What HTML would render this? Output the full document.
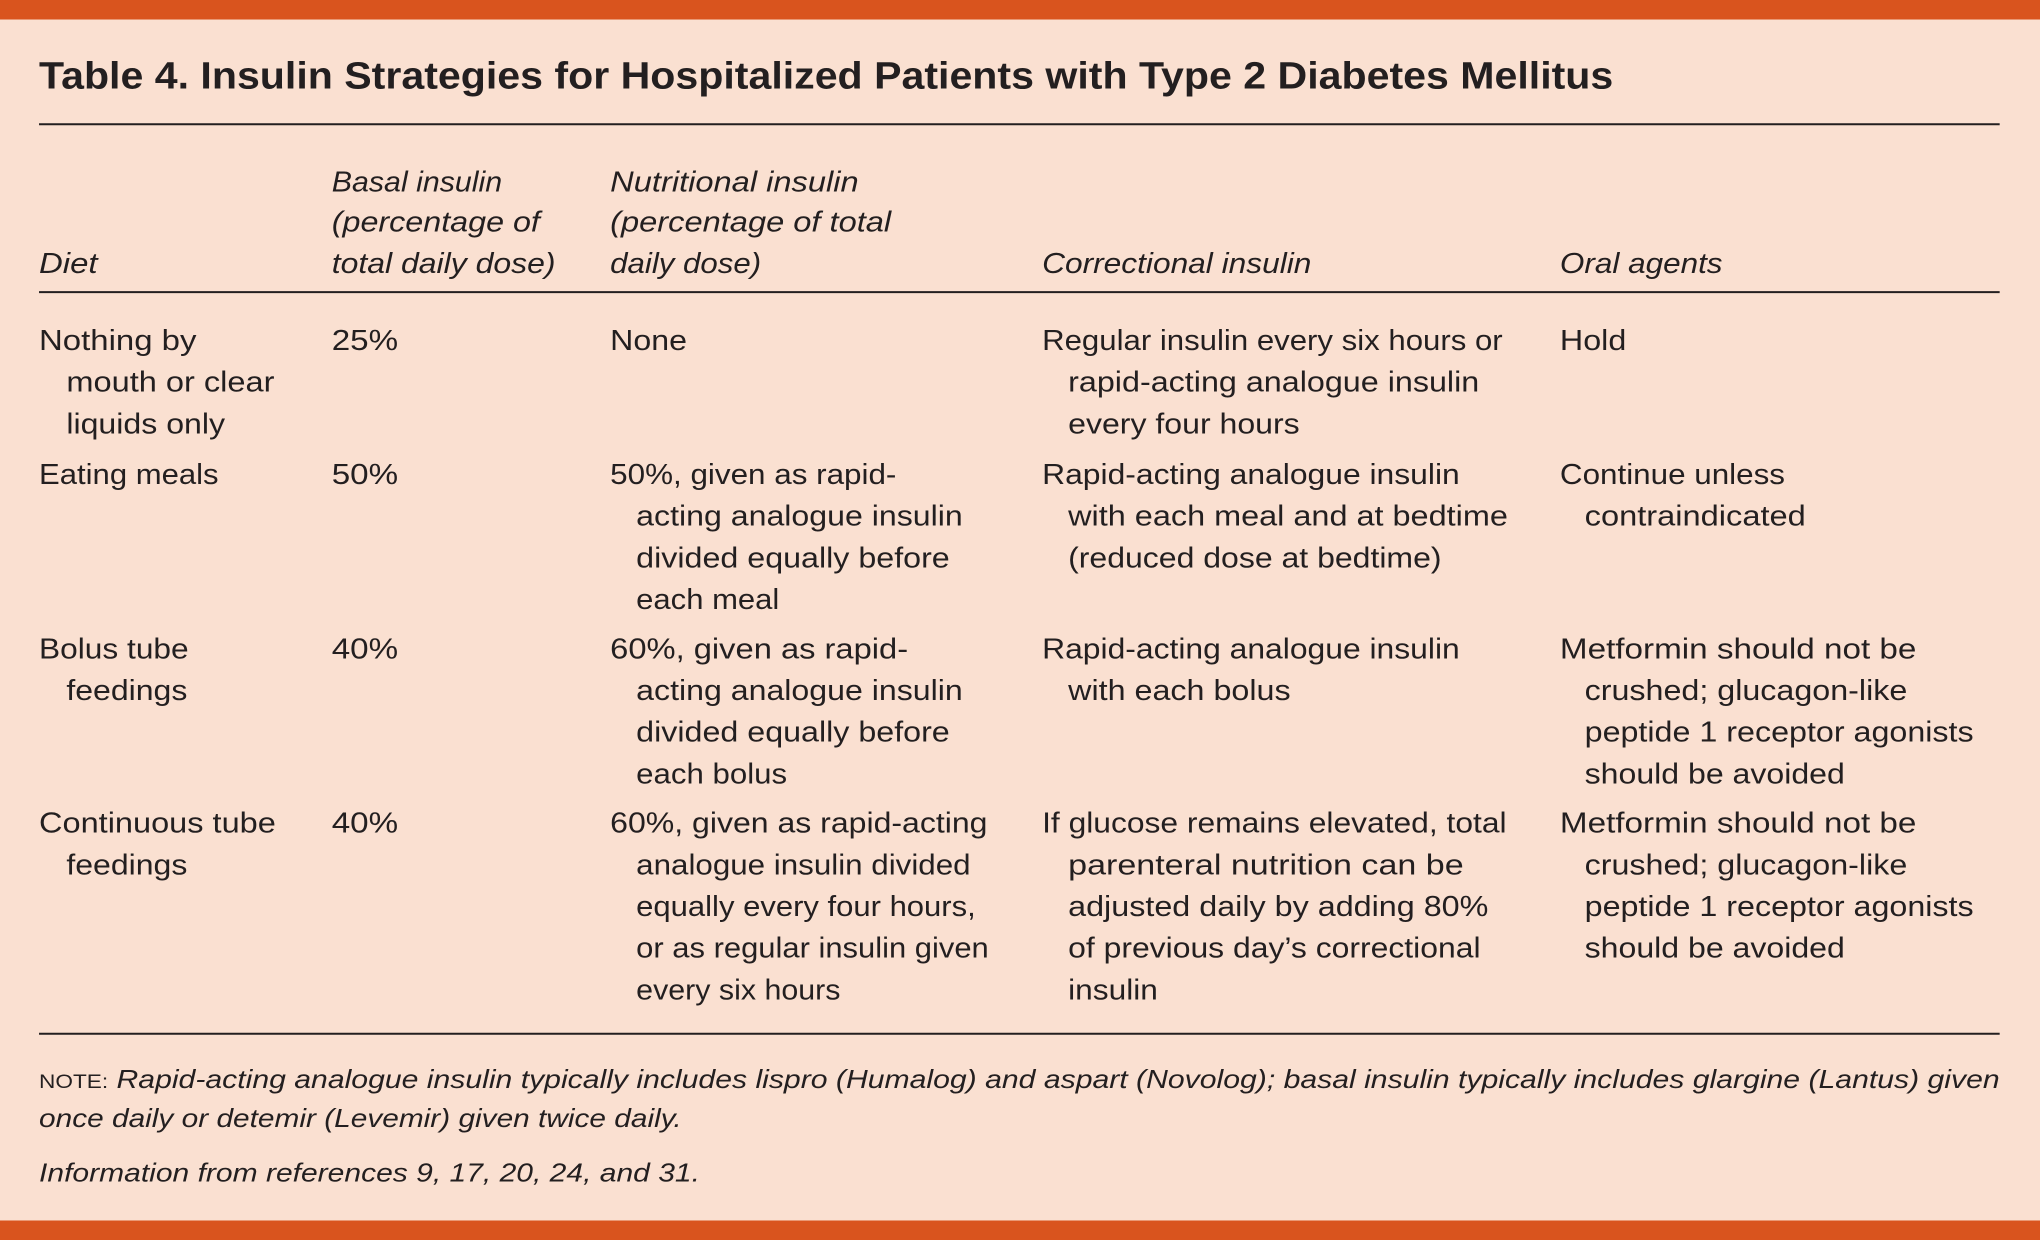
<!DOCTYPE html>
<html><head><meta charset="utf-8"><style>
html,body{margin:0;padding:0;background:#fae0d1;}
svg{display:block}
text{font-family:"Liberation Sans",sans-serif;fill:#231f20;font-size:22px}
.i{font-style:italic}
.b{font-weight:bold;font-size:29px}
.n{font-size:20px}
</style></head><body>
<svg width="2040" height="1240" viewBox="0 0 1568 953" preserveAspectRatio="none" xmlns="http://www.w3.org/2000/svg">
<rect x="0" y="0" width="1568" height="953" fill="#fae0d1"/>
<rect x="0" y="0" width="1568" height="15" fill="#d9541e"/>
<rect x="0" y="938" width="1568" height="15" fill="#d9541e"/>
<text class="b" x="30" y="68" textLength="1210" lengthAdjust="spacingAndGlyphs">Table 4. Insulin Strategies for Hospitalized Patients with Type 2 Diabetes Mellitus</text>
<line x1="30" y1="95.5" x2="1537" y2="95.5" stroke="#231f20" stroke-width="1.6"/>
<line x1="30" y1="224.5" x2="1537" y2="224.5" stroke="#231f20" stroke-width="1.6"/>
<line x1="30" y1="794.5" x2="1537" y2="794.5" stroke="#231f20" stroke-width="1.6"/>
<g class="i">
<text class="i" x="255" y="147" textLength="131" lengthAdjust="spacingAndGlyphs">Basal insulin</text>
<text class="i" x="255" y="178" textLength="160" lengthAdjust="spacingAndGlyphs">(percentage of</text>
<text class="i" x="255" y="210" textLength="172" lengthAdjust="spacingAndGlyphs">total daily dose)</text>
<text class="i" x="469" y="147" textLength="191" lengthAdjust="spacingAndGlyphs">Nutritional insulin</text>
<text class="i" x="469" y="178" textLength="216" lengthAdjust="spacingAndGlyphs">(percentage of total</text>
<text class="i" x="469" y="210" textLength="116" lengthAdjust="spacingAndGlyphs">daily dose)</text>
<text class="i" x="30" y="210" textLength="45" lengthAdjust="spacingAndGlyphs">Diet</text>
<text class="i" x="801" y="210" textLength="207" lengthAdjust="spacingAndGlyphs">Correctional insulin</text>
<text class="i" x="1199" y="210" textLength="125" lengthAdjust="spacingAndGlyphs">Oral agents</text>
</g>
<!-- row1 -->
<text x="30" y="269" textLength="121" lengthAdjust="spacingAndGlyphs">Nothing by</text>
<text x="51" y="301" textLength="160" lengthAdjust="spacingAndGlyphs">mouth or clear</text>
<text x="51" y="333" textLength="122" lengthAdjust="spacingAndGlyphs">liquids only</text>
<text x="255" y="269" textLength="51" lengthAdjust="spacingAndGlyphs">25%</text>
<text x="469" y="269" textLength="59" lengthAdjust="spacingAndGlyphs">None</text>
<text x="801" y="269" textLength="354" lengthAdjust="spacingAndGlyphs">Regular insulin every six hours or</text>
<text x="821" y="301" textLength="316" lengthAdjust="spacingAndGlyphs">rapid-acting analogue insulin</text>
<text x="821" y="333" textLength="178" lengthAdjust="spacingAndGlyphs">every four hours</text>
<text x="1199" y="269" textLength="51" lengthAdjust="spacingAndGlyphs">Hold</text>
<!-- row2 -->
<text x="30" y="372" textLength="138" lengthAdjust="spacingAndGlyphs">Eating meals</text>
<text x="255" y="372" textLength="51" lengthAdjust="spacingAndGlyphs">50%</text>
<text x="469" y="372" textLength="220" lengthAdjust="spacingAndGlyphs">50%, given as rapid-</text>
<text x="489" y="404" textLength="251" lengthAdjust="spacingAndGlyphs">acting analogue insulin</text>
<text x="489" y="436" textLength="241" lengthAdjust="spacingAndGlyphs">divided equally before</text>
<text x="489" y="468" textLength="110" lengthAdjust="spacingAndGlyphs">each meal</text>
<text x="801" y="372" textLength="321" lengthAdjust="spacingAndGlyphs">Rapid-acting analogue insulin</text>
<text x="821" y="404" textLength="338" lengthAdjust="spacingAndGlyphs">with each meal and at bedtime</text>
<text x="821" y="436" textLength="287" lengthAdjust="spacingAndGlyphs">(reduced dose at bedtime)</text>
<text x="1199" y="372" textLength="173" lengthAdjust="spacingAndGlyphs">Continue unless</text>
<text x="1218" y="404" textLength="170" lengthAdjust="spacingAndGlyphs">contraindicated</text>
<!-- row3 -->
<text x="30" y="506" textLength="115" lengthAdjust="spacingAndGlyphs">Bolus tube</text>
<text x="51" y="538" textLength="93" lengthAdjust="spacingAndGlyphs">feedings</text>
<text x="255" y="506" textLength="51" lengthAdjust="spacingAndGlyphs">40%</text>
<text x="469" y="506" textLength="229" lengthAdjust="spacingAndGlyphs">60%, given as rapid-</text>
<text x="489" y="538" textLength="251" lengthAdjust="spacingAndGlyphs">acting analogue insulin</text>
<text x="489" y="570" textLength="241" lengthAdjust="spacingAndGlyphs">divided equally before</text>
<text x="489" y="602" textLength="116" lengthAdjust="spacingAndGlyphs">each bolus</text>
<text x="801" y="506" textLength="321" lengthAdjust="spacingAndGlyphs">Rapid-acting analogue insulin</text>
<text x="821" y="538" textLength="171" lengthAdjust="spacingAndGlyphs">with each bolus</text>
<text x="1199" y="506" textLength="274" lengthAdjust="spacingAndGlyphs">Metformin should not be</text>
<text x="1218" y="538" textLength="248" lengthAdjust="spacingAndGlyphs">crushed; glucagon-like</text>
<text x="1218" y="570" textLength="299" lengthAdjust="spacingAndGlyphs">peptide 1 receptor agonists</text>
<text x="1218" y="602" textLength="200" lengthAdjust="spacingAndGlyphs">should be avoided</text>
<!-- row4 -->
<text x="30" y="640" textLength="182" lengthAdjust="spacingAndGlyphs">Continuous tube</text>
<text x="51" y="672" textLength="93" lengthAdjust="spacingAndGlyphs">feedings</text>
<text x="255" y="640" textLength="51" lengthAdjust="spacingAndGlyphs">40%</text>
<text x="469" y="640" textLength="290" lengthAdjust="spacingAndGlyphs">60%, given as rapid-acting</text>
<text x="489" y="672" textLength="257" lengthAdjust="spacingAndGlyphs">analogue insulin divided</text>
<text x="489" y="704" textLength="261" lengthAdjust="spacingAndGlyphs">equally every four hours,</text>
<text x="489" y="736" textLength="271" lengthAdjust="spacingAndGlyphs">or as regular insulin given</text>
<text x="489" y="768" textLength="157" lengthAdjust="spacingAndGlyphs">every six hours</text>
<text x="801" y="640" textLength="357" lengthAdjust="spacingAndGlyphs">If glucose remains elevated, total</text>
<text x="821" y="672" textLength="304" lengthAdjust="spacingAndGlyphs">parenteral nutrition can be</text>
<text x="821" y="704" textLength="323" lengthAdjust="spacingAndGlyphs">adjusted daily by adding 80%</text>
<text x="821" y="736" textLength="317" lengthAdjust="spacingAndGlyphs">of previous day’s correctional</text>
<text x="821" y="768" textLength="69" lengthAdjust="spacingAndGlyphs">insulin</text>
<text x="1199" y="640" textLength="274" lengthAdjust="spacingAndGlyphs">Metformin should not be</text>
<text x="1218" y="672" textLength="248" lengthAdjust="spacingAndGlyphs">crushed; glucagon-like</text>
<text x="1218" y="704" textLength="299" lengthAdjust="spacingAndGlyphs">peptide 1 receptor agonists</text>
<text x="1218" y="736" textLength="200" lengthAdjust="spacingAndGlyphs">should be avoided</text>
<!-- notes -->
<text class="n" x="30" y="836" textLength="1507" lengthAdjust="spacingAndGlyphs"><tspan font-size="15">NOTE:</tspan> <tspan font-style="italic">Rapid-acting analogue insulin typically includes lispro (Humalog) and aspart (Novolog); basal insulin typically includes glargine (Lantus) given</tspan></text>
<text class="n i" x="30" y="866" textLength="494" lengthAdjust="spacingAndGlyphs" font-style="italic">once daily or detemir (Levemir) given twice daily.</text>
<text class="n i" x="30" y="908" textLength="508" lengthAdjust="spacingAndGlyphs" font-style="italic">Information from references 9, 17, 20, 24, and 31.</text>
</svg>
</body></html>
